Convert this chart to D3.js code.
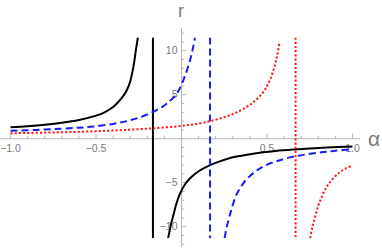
<!DOCTYPE html>
<html><head><meta charset="utf-8">
<script src="https://cdn.jsdelivr.net/npm/d3@7"></script>
<style>body{margin:0;background:#fff}svg{display:block}</style>
</head><body>
<script>
// tick values
const alphaTicks = [-1, -0.5, 0.5, 1];
const rTicks = [-10, -5, 5, 10];
// asymptote positions (alpha)
const asymBlack = -0.167, asymBlue = 0.167, asymRed = 0.667;
// series [alpha, r]
const blackLeft = [[-1,1.3],[-0.9,1.42],[-0.8,1.58],[-0.7,1.8],[-0.6,2.12],[-0.5,2.62],[-0.45,3.0],[-0.4,3.6],[-0.35,4.6],[-0.32,5.5],[-0.3,6.5],[-0.28,8.3],[-0.265,10.3],[-0.255,11.5]];
const blackRight = [[-0.078,-11.3],[-0.06,-9.6],[-0.045,-8.5],[-0.03,-7.4],[-0.01,-6.3],[0.02,-5.2],[0.05,-4.5],[0.1,-3.7],[0.167,-3.0],[0.22,-2.6],[0.284,-2.2],[0.35,-1.93],[0.4,-1.76],[0.478,-1.55],[0.55,-1.4],[0.654,-1.24],[0.75,-1.12],[0.85,-1.01],[1.0,-0.88]];
const blueLeft = [[-1,0.9],[-0.85,1.0],[-0.71,1.12],[-0.6,1.25],[-0.516,1.38],[-0.4,1.68],[-0.32,2.0],[-0.24,2.45],[-0.165,3.05],[-0.11,3.65],[-0.067,4.3],[-0.028,5.1],[-0.009,5.75],[0.02,7.1],[0.05,8.9],[0.065,10.1],[0.079,11.5]];
const blueRight = [[0.252,-11.3],[0.265,-10.0],[0.284,-8.6],[0.3,-7.5],[0.323,-6.3],[0.35,-5.4],[0.381,-4.6],[0.43,-3.75],[0.478,-3.15],[0.55,-2.6],[0.635,-2.12],[0.73,-1.78],[0.829,-1.52],[0.9,-1.37],[1.0,-1.2]];
const redLeft = [[-1,0.62],[-0.8,0.69],[-0.6,0.78],[-0.4,0.93],[-0.2,1.14],[0,1.45],[0.1,1.72],[0.167,2.0],[0.23,2.33],[0.284,2.68],[0.33,3.05],[0.381,3.6],[0.42,4.15],[0.459,4.85],[0.49,5.65],[0.52,6.8],[0.547,8.4],[0.56,9.5],[0.572,10.9]];
const redRight = [[0.752,-11.3],[0.765,-10.1],[0.781,-8.9],[0.8,-7.6],[0.82,-6.6],[0.845,-5.6],[0.868,-4.95],[0.9,-4.25],[0.927,-3.8],[0.96,-3.38],[1.0,-3.05]];
const rMin = -11.3, rMax = 11.5;

const W = 382, H = 250;
const svg = d3.select("body").append("svg").attr("width", W).attr("height", H);
const x = d3.scaleLinear().domain([-1, 1]).range([10.5, 352.5]);
const y = d3.scaleLinear().domain([-10, 10]).range([226.7, 50.7]);
const axisCol = "#b4b4b4", labCol = "#7a7a7a";
const font = "'Liberation Sans', Arial, sans-serif";

// x axis
const gx = svg.append("g");
gx.append("line").attr("x1", 0).attr("x2", 360).attr("y1", y(0)).attr("y2", y(0)).attr("stroke", axisCol).attr("stroke-width", 1);
const xMinor = d3.range(-10, 11).map(d => d / 10);
gx.selectAll("line.mx").data(xMinor).join("line")
  .attr("x1", d => x(d)).attr("x2", d => x(d))
  .attr("y1", y(0)).attr("y2", d => y(0) - (alphaTicks.some(t => Math.abs(t - d) < 1e-9) ? 5 : 2.8))
  .attr("stroke", axisCol).attr("stroke-width", 1);
gx.selectAll("text").data(alphaTicks).join("text")
  .attr("x", d => x(d)).attr("y", 152).attr("text-anchor", "middle")
  .attr("font-family", font).attr("font-size", 10.5).attr("fill", labCol)
  .text(d => d3.format(".1f")(d).replace("-", "\u2212"));

// y axis
const gy = svg.append("g");
gy.append("line").attr("x1", x(0)).attr("x2", x(0)).attr("y1", 28).attr("y2", 247).attr("stroke", axisCol).attr("stroke-width", 1);
const yMinor = d3.range(-12, 13);
gy.selectAll("line.my").data(yMinor).join("line")
  .attr("y1", d => y(d)).attr("y2", d => y(d))
  .attr("x1", x(0)).attr("x2", d => x(0) + (rTicks.includes(d) ? 5 : 2.8))
  .attr("stroke", axisCol).attr("stroke-width", 1);
gy.selectAll("text").data(rTicks).join("text")
  .attr("x", x(0) - 4).attr("y", d => y(d)).attr("dy", "0.36em").attr("text-anchor", "end")
  .attr("font-family", font).attr("font-size", 10.5).attr("fill", labCol)
  .text(d => String(d).replace("-", "\u2212"));

// axis titles
svg.append("text").attr("x", 374).attr("y", 146).attr("text-anchor", "middle")
  .attr("font-family", font).attr("font-size", 21).attr("fill", labCol).text("α");
svg.append("text").attr("x", 181).attr("y", 17).attr("text-anchor", "middle")
  .attr("font-family", font).attr("font-size", 18).attr("fill", labCol).text("r");

// clip
svg.append("clipPath").attr("id", "plot").append("rect")
  .attr("x", 0).attr("y", y(rMax)).attr("width", W).attr("height", y(rMin) - y(rMax));

const line = d3.line().x(d => x(d[0])).y(d => y(d[1])).curve(d3.curveCatmullRom.alpha(0.5));
const plot = svg.append("g").attr("clip-path", "url(#plot)");
const series = [
  {parts: [blackLeft, blackRight], asym: asymBlack, color: "#000", dash: null, w: 2},
  {parts: [blueLeft, blueRight], asym: asymBlue, color: "#1a1aff", dash: "7,4", w: 2},
  {parts: [redLeft, redRight], asym: asymRed, color: "#ff1a1a", dash: "2.2,2", w: 2}
];
series.forEach(s => {
  s.parts.forEach(p => {
    plot.append("path").attr("d", line(p)).attr("fill", "none")
      .attr("stroke", s.color).attr("stroke-width", s.w).attr("stroke-dasharray", s.dash);
  });
  plot.append("line").attr("x1", x(s.asym)).attr("x2", x(s.asym))
    .attr("y1", y(rMax)).attr("y2", y(rMin))
    .attr("stroke", s.color).attr("stroke-width", s.w).attr("stroke-dasharray", s.dash);
});
</script>
</body></html>
